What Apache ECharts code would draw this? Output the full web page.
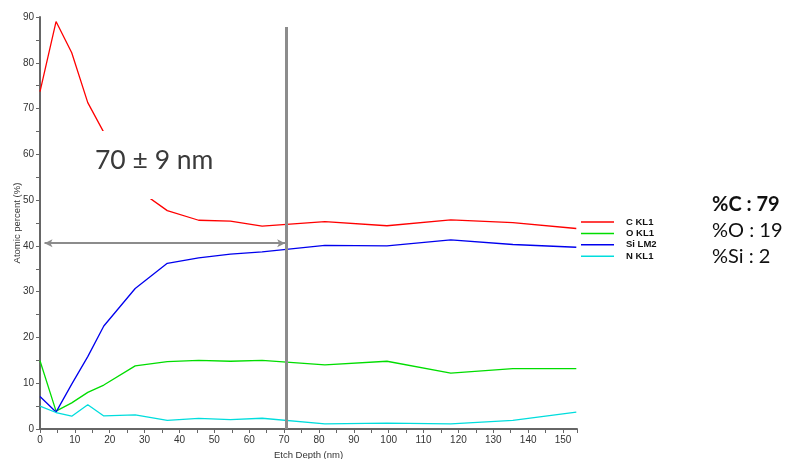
<!DOCTYPE html>
<html><head><meta charset="utf-8">
<script src="https://cdn.jsdelivr.net/npm/echarts@6/dist/echarts.min.js"></script>
<style>html,body{margin:0;padding:0;background:#fff}#c{width:787px;height:459px}</style>
</head><body><div id="c"></div>
<script>
const depth = [0, 4.6, 9.1, 13.7, 18.3, 27.3, 36.5, 45.5, 54.6, 63.7, 81.7, 99.5, 117.8, 135.6, 153.8];
const seriesNames = ['C KL1', 'O KL1', 'Si LM2', 'N KL1'];
const cKL1  = [73.7, 89.0, 82.2, 71.3, 64.8, 52.7, 47.7, 45.6, 45.4, 44.3, 45.3, 44.4, 45.7, 45.1, 43.8];
const oKL1  = [14.9, 3.9, 5.7, 8.0, 9.6, 13.8, 14.7, 15.0, 14.8, 15.0, 14.0, 14.8, 12.2, 13.2, 13.2];
const siLM2 = [7.1, 3.7, 9.8, 15.8, 22.5, 30.7, 36.2, 37.4, 38.2, 38.7, 40.1, 40.0, 41.3, 40.3, 39.7];
const nKL1  = [5.0, 3.6, 2.8, 5.3, 2.85, 3.1, 1.9, 2.3, 2.05, 2.35, 1.1, 1.3, 1.1, 1.9, 3.7];
const colors = ['#ff0000', '#00dd00', '#0000ee', '#00dddd'];
const thicknessMark = 70.5;     // nm, vertical marker
const thicknessLabel = '70 ± 9 nm';
const composition = [['%C : 79', 'bold'], ['%O : 19', 'normal'], ['%Si : 2', 'normal']];

const values = [cKL1, oKL1, siLM2, nKL1];
const series = seriesNames.map((n, i) => ({
  name: n, type: 'line', symbol: 'none', z: 3,
  data: depth.map((d, j) => [d, values[i][j]]),
  lineStyle: { color: colors[i], width: 1.3 },
  itemStyle: { color: colors[i] }
}));
series[0].markLine = {
  silent: true, animation: false, label: { show: false },
  data: [
    [{ coord: [thicknessMark, 87.8], symbol: 'none', lineStyle: { color: '#8c8c8c', width: 3, type: 'solid' } },
     { coord: [thicknessMark, 0], symbol: 'none' }],
    [{ coord: [1.3, 40.6], symbol: 'arrow', symbolSize: [6, 8], lineStyle: { color: '#8c8c8c', width: 2, type: 'solid' } },
     { coord: [thicknessMark - 0.2, 40.6], symbol: 'arrow', symbolSize: [6, 8] }]
  ]
};

const chart = echarts.init(document.getElementById('c'), null, { renderer: 'canvas' });
const gtext = [];
gtext.push({ type: 'rect', z: 100, shape: { x: 90, y: 131, width: 130, height: 68 }, style: { fill: '#ffffff' } });
gtext.push({ type: 'text', z: 101, left: 95, top: 147, style: { text: thicknessLabel, font: '26.5px Lato', fill: '#3a3a3a' } });
composition.forEach((c, i) => gtext.push({ type: 'text', z: 101, left: 712, top: 195 + i * 26,
  style: { text: c[0], font: c[1] + ' 20px Lato', fill: '#111' } }));

chart.setOption({
  animation: false,
  color: colors,
  grid: { left: 40, right: 210, top: 17, bottom: 30, containLabel: false, outerBoundsMode: 'none' },
  legend: {
    orient: 'vertical', left: 581, top: 216.5, padding: 0,
    icon: 'rect', itemWidth: 33, itemHeight: 1.5, itemGap: 0.4,
    textStyle: { fontFamily: 'Liberation Sans', fontWeight: 'bold', fontSize: 9.5, color: '#111', lineHeight: 11, padding: [0, 0, 0, 7] },
    data: seriesNames
  },
  xAxis: {
    type: 'value', min: 0, max: 154, interval: 10,
    name: 'Etch Depth (nm)', nameLocation: 'middle', nameGap: 21, nameMoveOverlap: false,
    nameTextStyle: { fontFamily: 'Liberation Sans', fontSize: 9.5, color: '#333' },
    axisLine: { lineStyle: { color: '#666', width: 2 } },
    axisTick: { show: true, length: 4, lineStyle: { color: '#666' } },
    minorTick: { show: true, splitNumber: 2, length: 4, lineStyle: { color: '#666' } },
    axisLabel: { showMaxLabel: false, fontFamily: 'Liberation Sans', fontSize: 10, color: '#333', margin: 6 },
    splitLine: { show: false }
  },
  yAxis: {
    type: 'value', min: 0, max: 90, interval: 10,
    name: 'Atomic percent (%)', nameLocation: 'middle', nameGap: 18, nameMoveOverlap: false,
    nameTextStyle: { fontFamily: 'Liberation Sans', fontSize: 9.5, color: '#333' },
    axisLine: { show: true, lineStyle: { color: '#666', width: 2 } },
    axisTick: { show: true, length: 4, lineStyle: { color: '#666' } },
    minorTick: { show: true, splitNumber: 2, length: 4, lineStyle: { color: '#666' } },
    axisLabel: { fontFamily: 'Liberation Sans', fontSize: 10, color: '#333', margin: 6 },
    splitLine: { show: false }
  },
  series: series,
  graphic: gtext
});
</script></body></html>
